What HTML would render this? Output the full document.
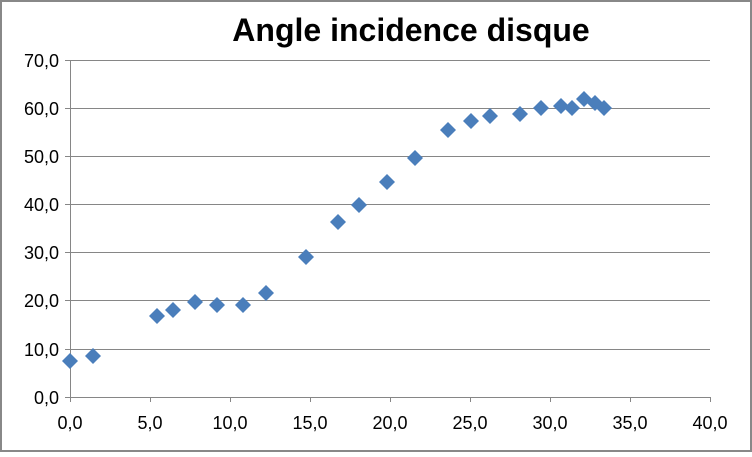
<!DOCTYPE html>
<html><head><style>body{margin:0;background:#fff}</style></head><body>
<svg width="752" height="452" xmlns="http://www.w3.org/2000/svg" font-family="'Liberation Sans',sans-serif">
<rect x="1" y="1" width="750" height="450" fill="#fff" stroke="#888" stroke-width="2"/>
<text x="411" y="41" text-anchor="middle" font-size="32" font-weight="bold">Angle incidence disque</text>
<g stroke="#868686" stroke-width="1">
<line x1="70" y1="60.5" x2="710" y2="60.5"/><line x1="70" y1="108.5" x2="710" y2="108.5"/>
<line x1="70" y1="156.5" x2="710" y2="156.5"/><line x1="70" y1="204.5" x2="710" y2="204.5"/>
<line x1="70" y1="252.5" x2="710" y2="252.5"/><line x1="70" y1="300.5" x2="710" y2="300.5"/>
<line x1="70" y1="349.5" x2="710" y2="349.5"/><line x1="65" y1="397.5" x2="710" y2="397.5"/>
<line x1="70.5" y1="60" x2="70.5" y2="402"/>
<line x1="65" y1="60.5" x2="70" y2="60.5"/><line x1="65" y1="108.5" x2="70" y2="108.5"/><line x1="65" y1="156.5" x2="70" y2="156.5"/><line x1="65" y1="204.5" x2="70" y2="204.5"/><line x1="65" y1="252.5" x2="70" y2="252.5"/><line x1="65" y1="300.5" x2="70" y2="300.5"/><line x1="65" y1="349.5" x2="70" y2="349.5"/>
<line x1="150.5" y1="397" x2="150.5" y2="402"/><line x1="230.5" y1="397" x2="230.5" y2="402"/><line x1="310.5" y1="397" x2="310.5" y2="402"/><line x1="390.5" y1="397" x2="390.5" y2="402"/><line x1="470.5" y1="397" x2="470.5" y2="402"/><line x1="550.5" y1="397" x2="550.5" y2="402"/><line x1="630.5" y1="397" x2="630.5" y2="402"/><line x1="710.5" y1="397" x2="710.5" y2="402"/>
</g>
<g font-size="18" text-anchor="end" fill="#000">
<text x="59" y="67">70,0</text><text x="59" y="115">60,0</text><text x="59" y="163">50,0</text><text x="59" y="211">40,0</text><text x="59" y="259">30,0</text><text x="59" y="307">20,0</text><text x="59" y="356">10,0</text><text x="59" y="404">0,0</text>
</g>
<g font-size="18" text-anchor="middle" fill="#000">
<text x="70" y="429">0,0</text><text x="150" y="429">5,0</text><text x="230" y="429">10,0</text><text x="310" y="429">15,0</text><text x="390" y="429">20,0</text><text x="470" y="429">25,0</text><text x="550" y="429">30,0</text><text x="630" y="429">35,0</text><text x="710" y="429">40,0</text>
</g>
<g fill="#4a7ebb">
<path d="M70 353l8 8-8 8-8-8z"/><path d="M93 348l8 8-8 8-8-8z"/><path d="M157 308l8 8-8 8-8-8z"/><path d="M173 302l8 8-8 8-8-8z"/><path d="M195 294l8 8-8 8-8-8z"/><path d="M217 297l8 8-8 8-8-8z"/><path d="M243 297l8 8-8 8-8-8z"/><path d="M266 285l8 8-8 8-8-8z"/><path d="M306 249l8 8-8 8-8-8z"/><path d="M338 214l8 8-8 8-8-8z"/><path d="M359 197l8 8-8 8-8-8z"/><path d="M387 174l8 8-8 8-8-8z"/><path d="M415 150l8 8-8 8-8-8z"/><path d="M448 122l8 8-8 8-8-8z"/><path d="M471 113l8 8-8 8-8-8z"/><path d="M490 108l8 8-8 8-8-8z"/><path d="M520 106l8 8-8 8-8-8z"/><path d="M541 100l8 8-8 8-8-8z"/><path d="M561 98l8 8-8 8-8-8z"/><path d="M572 100l8 8-8 8-8-8z"/><path d="M584 91l8 8-8 8-8-8z"/><path d="M595 95l8 8-8 8-8-8z"/><path d="M604 100l8 8-8 8-8-8z"/>
</g>
</svg>
</body></html>
